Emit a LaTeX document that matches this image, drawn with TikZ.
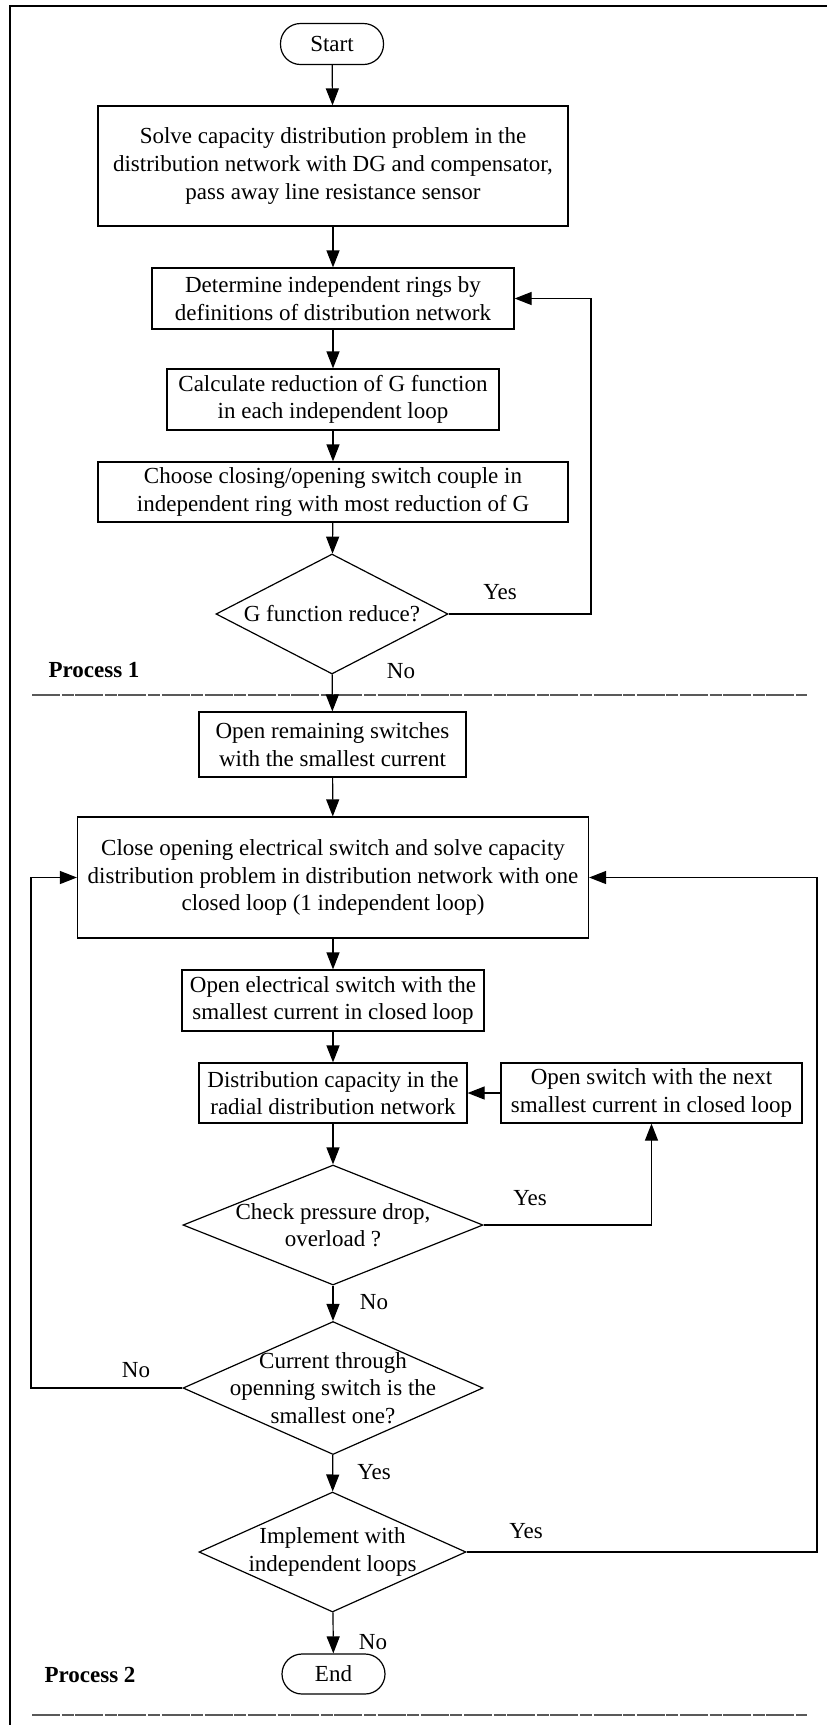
\documentclass[tikz,border=0pt]{standalone}
\usepackage{fontspec}
\setmainfont{Liberation Serif}
\usetikzlibrary{arrows.meta,shapes.geometric}
\tikzset{
  blk/.style={rectangle,draw=black,line width=0.6pt,inner sep=2pt,align=center,font=\fontsize{11.5}{13.8}\selectfont},
  term/.style={blk,rounded corners=10pt,minimum width=51.5pt,minimum height=20.5pt},
  dec/.style={diamond,draw=black,line width=0.6pt,inner sep=0pt},
  txt/.style={align=center,inner sep=0pt,font=\fontsize{11.5}{13.8}\selectfont},
  lbl/.style={inner sep=1pt,font=\fontsize{11.5}{13.8}\selectfont},
  flow/.style={-{Triangle[length=8.5pt,width=6.5pt]},line width=0.6pt},
  link/.style={line width=0.6pt},
  sep/.style={line width=1.3pt,black!65,dash pattern=on 14pt off 0.8pt on 6pt off 0.8pt},
}
\begin{document}
\begin{tikzpicture}[x=0.5pt,y=-0.5pt]
  \useasboundingbox (0,0) rectangle (827,1725);
  % frame
  \draw[link] (10,1725) -- (10,6) -- (827,6);
  \draw[sep] (32,695) -- (807,695);
  \draw[sep] (32,1715) -- (807,1715);
  % process 1
  \node[term] (start) at (332,44){Start};
  \node[blk,minimum width=235pt,minimum height=60pt] (b1) at (333,166){Solve capacity distribution problem in the\\distribution network with DG and compensator,\\pass away line resistance sensor};
  \node[blk,minimum width=181pt,minimum height=30.5pt] (b2) at (333,298.5){Determine independent rings by\\definitions of distribution network};
  \node[blk,minimum width=166pt,minimum height=30.5pt] (b3) at (333,399.5){Calculate reduction of G function\\in each independent loop};
  \node[blk,minimum width=235pt,minimum height=30pt] (b4) at (333,492){Choose closing/opening switch couple in\\independent ring with most reduction of G};
  \node[dec,minimum width=116pt,minimum height=60pt,label={[txt]center:G function reduce?}] (d1) at (332,614){};
  \node[font=\fontsize{11.5}{13.8}\selectfont\bfseries] (p1) at (94,670){Process 1};
  % process 2
  \node[blk,minimum width=133.5pt,minimum height=32.5pt] (b5) at (332.5,744.5){Open remaining switches\\with the smallest current};
  \node[blk,minimum width=255.5pt,minimum height=60.5pt] (b6) at (333,877.5){Close opening electrical switch and solve capacity\\distribution problem in distribution network with one\\closed loop (1 independent loop)};
  \node[blk,minimum width=151pt,minimum height=30.5pt] (b7) at (333,1000.5){Open electrical switch with the\\smallest current in closed loop};
  \node[blk,minimum width=134pt,minimum height=30pt] (b8) at (333,1093){Distribution capacity in the\\radial distribution network};
  \node[blk,minimum width=150.5pt,minimum height=30pt] (b9) at (651.5,1093){Open switch with the next\\smallest current in closed loop};
  \node[dec,minimum width=150pt,minimum height=60pt,label={[txt]center:{Check pressure drop,\\overload ?}}] (d2) at (333,1225){};
  \node[dec,minimum width=150pt,minimum height=66.5pt,label={[txt]center:{Current through\\openning switch is the\\smallest one?}}] (d3) at (333,1388){};
  \node[dec,minimum width=133.5pt,minimum height=60pt,label={[txt]center:{Implement with\\independent loops}}] (d4) at (332.5,1552){};
  \node[term,minimum height=20pt] (end) at (333.5,1674){End};
  \node[font=\fontsize{11.5}{13.8}\selectfont\bfseries] (p2) at (90,1675){Process 2};
  % corners of the return lines
  \coordinate (r1) at (591,614);
  \coordinate (r3) at (31,1388);
  \coordinate (r4) at (817,1552);
  % main flow
  \draw[flow] (start) -- (b1);
  \draw[flow] (b1) -- (b2);
  \draw[flow] (b2) -- (b3);
  \draw[flow] (b3) -- (b4);
  \draw[flow] (b4) -- (d1);
  \draw[flow] (d1) -- (b5);
  \draw[flow] (b5) -- (b6);
  \draw[flow] (b6) -- (b7);
  \draw[flow] (b7) -- (b8);
  \draw[flow] (b8) -- (d2);
  \draw[flow] (d2) -- (d3);
  \draw[flow] (d3) -- (d4);
  \draw[flow] (d4) -- (end);
  % loops
  \draw[flow] (d1.east) -- (r1) |- (b2.east);
  \draw[flow] (d2.east) -| (b9.south);
  \draw[flow] (b9.west) -- (b8.east);
  \draw[flow] (d3.west) -- (r3) |- (b6.west);
  \draw[flow] (d4.east) -- (r4) |- (b6.east);
  % branch labels
  \foreach \n/\t/\x/\y in {y1/Yes/500/592, n1/No/401/671, y2/Yes/530/1198, n2/No/374/1302,
      n3/No/136/1370, y3/Yes/374/1472, y4/Yes/526/1531, n4/No/373/1642}{
     \node[lbl] (\n) at (\x,\y){\t};}
\end{tikzpicture}
\end{document}
